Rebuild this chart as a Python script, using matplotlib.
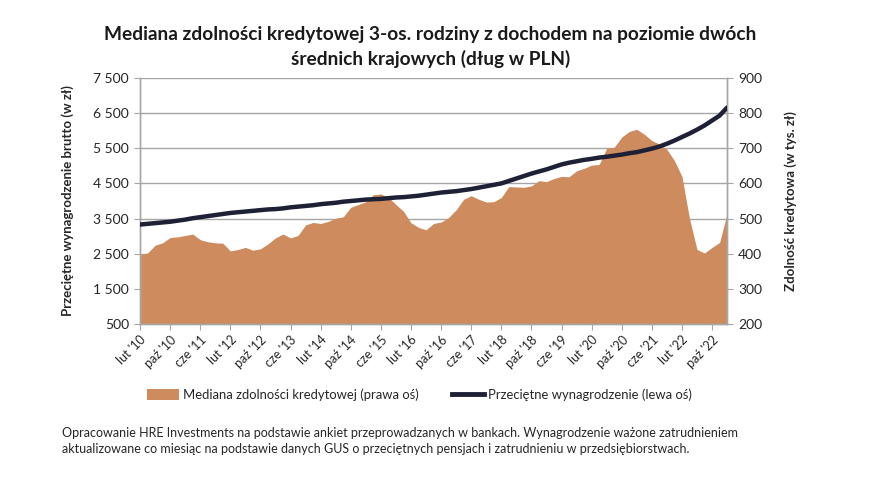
import matplotlib
matplotlib.use("Agg")
import matplotlib.pyplot as plt
from matplotlib.patches import Patch
from matplotlib.lines import Line2D
import numpy as np

plt.rcParams['font.family'] = ['Lato', 'DejaVu Sans']

# month index (0 = lut '10), sampled every 2 months
months = list(range(0, 157, 2))

# Mediana zdolności kredytowej (tys. zł) - right axis
capacity = [397, 402, 424, 431, 446, 448, 452, 456, 440, 434,
            431, 430, 408, 412, 418, 410, 414, 428, 445, 456,
            445, 452, 482, 489, 486, 492, 501, 505, 532, 540,
            548, 568, 570, 561, 540, 521, 488, 475, 468, 486,
            490, 503, 525, 555, 565, 555, 547, 548, 560, 591,
            590, 589, 593, 608, 605, 614, 620, 619, 636, 643,
            652, 654, 700, 703, 732, 748, 754, 740, 722, 712,
            697, 665, 620, 500, 412, 402, 418, 432, 515]

# Przeciętne wynagrodzenie (zł) - left axis
wage = [3330, 3350, 3370, 3390, 3410, 3440, 3470, 3510, 3540, 3570,
        3600, 3630, 3660, 3680, 3700, 3720, 3740, 3760, 3770, 3790,
        3820, 3840, 3860, 3880, 3910, 3930, 3950, 3980, 4000, 4020,
        4040, 4050, 4060, 4080, 4100, 4110, 4130, 4150, 4180, 4210,
        4240, 4260, 4280, 4310, 4340, 4380, 4420, 4460, 4500, 4570,
        4640, 4710, 4780, 4840, 4900, 4970, 5040, 5090, 5130, 5170,
        5200, 5235, 5260, 5290, 5320, 5360, 5390, 5440, 5490, 5550,
        5630, 5720, 5820, 5920, 6030, 6150, 6290, 6430, 6660]

tick_months = list(range(0, 153, 8))
tick_labels = ["lut '10", "paź '10", "cze '11", "lut '12", "paź '12", "cze '13",
               "lut '14", "paź '14", "cze '15", "lut '16", "paź '16", "cze '17",
               "lut '18", "paź '18", "cze '19", "lut '20", "paź '20", "cze '21",
               "lut '22", "paź '22"]

left_ticks = list(range(500, 7501, 1000))
right_ticks = list(range(200, 901, 100))

area_color = '#CE8C5E'
line_color = '#1E2136'
grid_color = '#A6A6A6'
text_color = '#262626'

fig = plt.figure(figsize=(8.75, 4.8), dpi=100)
ax2 = fig.add_axes([0.16, 0.325, 0.671, 0.5125])  # right axis (area), drawn below
ax = ax2.twinx()
ax.yaxis.tick_left()
ax.yaxis.set_label_position('left')
ax2.yaxis.tick_right()
ax2.yaxis.set_label_position('right')

# area
ax2.fill_between(months, capacity, 200, color=area_color, linewidth=0, zorder=2)
ax2.set_ylim(200, 900)
ax2.set_yticks(right_ticks)
ax2.set_yticklabels([str(v) for v in right_ticks], fontsize=10, color=text_color)
ax2.grid(axis='y', color=grid_color, linewidth=1.0)
ax2.set_axisbelow(True)
ax2.set_xlim(0, 156)
ax2.set_xticks(tick_months)
ax2.set_xticklabels(tick_labels, rotation=45, ha='right', rotation_mode='anchor',
                    fontsize=9, color=text_color)
ax2.tick_params(axis='x', length=4, color=grid_color, pad=3)
ax2.tick_params(axis='y', length=4, color=grid_color, pad=4)
ax2.set_ylabel('Zdolność kredytowa (w tys. zł)', fontsize=9.5, fontweight='bold',
               color=text_color, labelpad=16)

# line
ax.plot(months, wage, color=line_color, linewidth=3.2, solid_capstyle='round', zorder=3)
ax.set_ylim(500, 7500)
ax.set_yticks(left_ticks)
ax.set_yticklabels([f"{v:,}".replace(",", " ") for v in left_ticks], fontsize=10, color=text_color)
ax.tick_params(axis='y', length=4, color=grid_color, pad=4)
ax.set_ylabel('Przeciętne wynagrodzenie brutto (w zł)', fontsize=9.5, fontweight='bold',
              color=text_color, labelpad=14)

for a in (ax, ax2):
    a.spines['top'].set_visible(False)
    for s in ('left', 'right', 'bottom'):
        a.spines[s].set_color(grid_color)
        a.spines[s].set_linewidth(1.0)

fig.text(0.492, 0.902, 'Mediana zdolności kredytowej 3-os. rodziny z dochodem na poziomie dwóch\n'
         'średnich krajowych (dług w PLN)', ha='center', va='center', fontsize=13.8,
         fontweight='bold', color='#1a1a1a', linespacing=1.4)

handles = [Patch(facecolor=area_color, edgecolor='none'),
           Line2D([0], [0], color=line_color, linewidth=3.5)]
labels = ['Mediana zdolności kredytowej (prawa oś)', 'Przeciętne wynagrodzenie (lewa oś)']
fig.legend(handles, labels, loc='center left', bbox_to_anchor=(0.155, 0.177), ncol=2,
           frameon=False, fontsize=9.4, handlelength=2.4, handleheight=0.9,
           columnspacing=2.6, handletextpad=0.3, labelcolor=text_color)

fig.text(0.071, 0.081, 'Opracowanie HRE Investments na podstawie ankiet przeprowadzanych w bankach. '
         'Wynagrodzenie ważone zatrudnieniem\naktualizowane co miesiąc na podstawie danych GUS o '
         'przeciętnych pensjach i zatrudnieniu w przedsiębiorstwach.',
         ha='left', va='center', fontsize=9.0, color=text_color, linespacing=1.35)

fig.savefig('out.png', dpi=100, facecolor='white')
